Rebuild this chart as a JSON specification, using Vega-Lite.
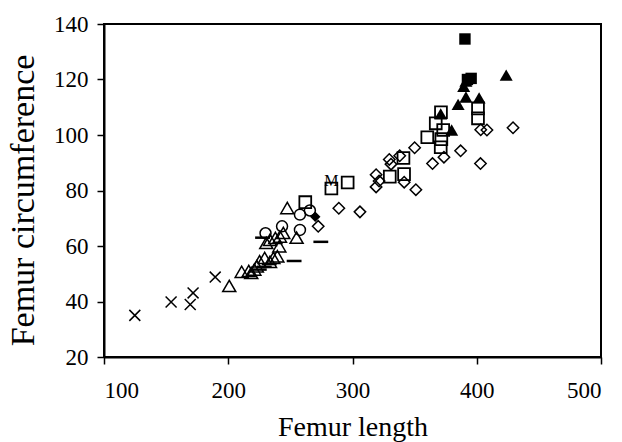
{
  "$schema": "https://vega.github.io/schema/vega-lite/v6.json",
  "width": 497,
  "height": 333,
  "autosize": {"type": "none"},
  "padding": {"left": 104, "top": 24, "right": 21, "bottom": 85},
  "background": "white",
  "config": {
    "view": {"stroke": "black", "strokeWidth": 2},
    "axis": {
      "labelFont": "Liberation Serif",
      "titleFont": "Liberation Serif",
      "labelFontSize": 23,
      "titleFontWeight": "normal",
      "labelColor": "black",
      "titleColor": "black",
      "domainColor": "black",
      "domainWidth": 2,
      "tickColor": "black",
      "tickWidth": 1.5,
      "tickSize": 7,
      "grid": false
    }
  },
  "datasets": {
    "pts": [
      {"g": "cross", "len": 124.8, "circ": 35.0},
      {"g": "cross", "len": 154, "circ": 39.8},
      {"g": "cross", "len": 169.4, "circ": 38.9},
      {"g": "cross", "len": 171.7, "circ": 43.1},
      {"g": "cross", "len": 189.5, "circ": 48.8},
      {"g": "tri", "len": 200.8, "circ": 45.6},
      {"g": "tri", "len": 210.8, "circ": 50.7},
      {"g": "tri", "len": 216.5, "circ": 51},
      {"g": "tri", "len": 218.5, "circ": 50.3},
      {"g": "tri", "len": 221, "circ": 51.5},
      {"g": "tri", "len": 223, "circ": 52.7},
      {"g": "tri", "len": 225.2, "circ": 54.5},
      {"g": "tri", "len": 229.3, "circ": 55.7},
      {"g": "tri", "len": 233.6, "circ": 54.3},
      {"g": "tri", "len": 236.3, "circ": 55.7},
      {"g": "tri", "len": 239.5, "circ": 56.3},
      {"g": "tri", "len": 241.1, "circ": 59.9},
      {"g": "tri", "len": 230.6, "circ": 61.1},
      {"g": "tri", "len": 233.6, "circ": 62.2},
      {"g": "tri", "len": 237.9, "circ": 62.9},
      {"g": "tri", "len": 241.6, "circ": 63.4},
      {"g": "tri", "len": 244.3, "circ": 64.7},
      {"g": "tri", "len": 255, "circ": 63},
      {"g": "tri", "len": 247.5, "circ": 73.7},
      {"g": "circle", "len": 230, "circ": 64.6},
      {"g": "circle", "len": 243.3, "circ": 67.1},
      {"g": "circle", "len": 257.7, "circ": 65.8},
      {"g": "circle", "len": 257.7, "circ": 71.3},
      {"g": "circle", "len": 265.7, "circ": 72.8},
      {"g": "dash", "len": 227.6, "circ": 63},
      {"g": "dash", "len": 253, "circ": 54.6},
      {"g": "dash", "len": 274.5, "circ": 61.5},
      {"g": "dash", "len": 225, "circ": 51.5},
      {"g": "dash", "len": 229, "circ": 52.5},
      {"g": "dash", "len": 233, "circ": 53.5},
      {"g": "fdiamond", "len": 270, "circ": 70.5},
      {"g": "diamond", "len": 272.4, "circ": 67.1},
      {"g": "diamond", "len": 289, "circ": 73.6},
      {"g": "diamond", "len": 306, "circ": 72.3},
      {"g": "diamond", "len": 319, "circ": 85.7},
      {"g": "diamond", "len": 321.4, "circ": 83.4},
      {"g": "diamond", "len": 319, "circ": 81.3},
      {"g": "diamond", "len": 329.6, "circ": 91.2},
      {"g": "diamond", "len": 331, "circ": 89.5},
      {"g": "diamond", "len": 338, "circ": 92.5},
      {"g": "diamond", "len": 341.6, "circ": 83},
      {"g": "diamond", "len": 351, "circ": 80.3},
      {"g": "diamond", "len": 350, "circ": 95.4},
      {"g": "diamond", "len": 364.4, "circ": 89.7},
      {"g": "diamond", "len": 373.6, "circ": 92},
      {"g": "diamond", "len": 387, "circ": 94.3},
      {"g": "diamond", "len": 403, "circ": 89.7},
      {"g": "diamond", "len": 403.2, "circ": 101.9},
      {"g": "diamond", "len": 408.2, "circ": 101.8},
      {"g": "diamond", "len": 429.2, "circ": 102.6},
      {"g": "square", "len": 262, "circ": 75.8},
      {"g": "square", "len": 283, "circ": 80.7},
      {"g": "square", "len": 296.1, "circ": 82.9},
      {"g": "square", "len": 330, "circ": 85},
      {"g": "square", "len": 341.5, "circ": 85.9},
      {"g": "square", "len": 341, "circ": 91.7},
      {"g": "square", "len": 360.2, "circ": 99.2},
      {"g": "square", "len": 367, "circ": 104.2},
      {"g": "square", "len": 371.2, "circ": 108.2},
      {"g": "square", "len": 373, "circ": 101.8},
      {"g": "square", "len": 371.5, "circ": 98.5},
      {"g": "square", "len": 371, "circ": 95.6},
      {"g": "square", "len": 401, "circ": 109.6},
      {"g": "square", "len": 401, "circ": 106},
      {"g": "fsquare", "len": 390.5, "circ": 134.6},
      {"g": "fsquare", "len": 392.5, "circ": 120},
      {"g": "fsquare", "len": 395.5, "circ": 120.4},
      {"g": "ftri", "len": 423.7, "circ": 121.6},
      {"g": "ftri", "len": 391.3, "circ": 119.4},
      {"g": "ftri", "len": 389.5, "circ": 117.5},
      {"g": "ftri", "len": 385, "circ": 111},
      {"g": "ftri", "len": 391.3, "circ": 113.7},
      {"g": "ftri", "len": 401.9, "circ": 113.4},
      {"g": "ftri", "len": 371, "circ": 107.6},
      {"g": "ftri", "len": 379.8, "circ": 101.8}
    ],
    "labels": [
      {"len": 283, "circ": 83.5, "t": "M"}
    ]
  },
  "data": {"name": "pts"},
  "encoding": {
    "x": {"field": "len", "type": "quantitative", "title": "Femur length",
      "scale": {"domain": [100, 500], "nice": false, "zero": false},
      "axis": {"values": [100, 200, 300, 400, 500], "labelPadding": 15, "titlePadding": 11, "titleFontSize": 28}},
    "y": {"field": "circ", "type": "quantitative", "title": "Femur circumference",
      "scale": {"domain": [20, 140], "nice": false, "zero": false},
      "axis": {"values": [20, 40, 60, 80, 100, 120, 140], "labelPadding": 9, "titlePadding": 13, "titleFontSize": 34, "titleY": 176}}
  },
  "layer": [
    {"transform": [{"filter": "datum.g === 'diamond'"}],
     "mark": {"type": "point", "shape": "diamond", "size": 130, "filled": false, "color": "black", "strokeWidth": 1.5, "opacity": 1}},
    {"transform": [{"filter": "datum.g === 'square'"}],
     "mark": {"type": "point", "shape": "square", "size": 140, "filled": false, "color": "black", "strokeWidth": 1.8, "opacity": 1}},
    {"transform": [{"filter": "datum.g === 'tri'"}],
     "mark": {"type": "point", "shape": "triangle-up", "size": 170, "filled": false, "color": "black", "strokeWidth": 1.5, "opacity": 1}},
    {"transform": [{"filter": "datum.g === 'circle'"}],
     "mark": {"type": "point", "shape": "circle", "size": 120, "filled": false, "color": "black", "strokeWidth": 1.5, "opacity": 1}},
    {"transform": [{"filter": "datum.g === 'cross'"}],
     "mark": {"type": "point", "shape": "M-1,-1L1,1M-1,1L1,-1", "size": 120, "filled": false, "color": "black", "strokeWidth": 1.5, "opacity": 1}},
    {"transform": [{"filter": "datum.g === 'dash'"}],
     "mark": {"type": "point", "shape": "M-1,0L1,0", "size": 220, "filled": false, "color": "black", "strokeWidth": 2.5, "opacity": 1}},
    {"transform": [{"filter": "datum.g === 'fdiamond'"}],
     "mark": {"type": "point", "shape": "diamond", "size": 110, "filled": true, "color": "black", "opacity": 1}},
    {"transform": [{"filter": "datum.g === 'fsquare'"}],
     "mark": {"type": "point", "shape": "square", "size": 130, "filled": true, "color": "black", "opacity": 1}},
    {"transform": [{"filter": "datum.g === 'ftri'"}],
     "mark": {"type": "point", "shape": "triangle-up", "size": 170, "filled": true, "color": "black", "opacity": 1}},
    {"data": {"name": "labels"},
     "mark": {"type": "text", "font": "Liberation Serif", "fontSize": 16, "color": "black"},
     "encoding": {"text": {"field": "t", "type": "nominal"}}}
  ]
}
